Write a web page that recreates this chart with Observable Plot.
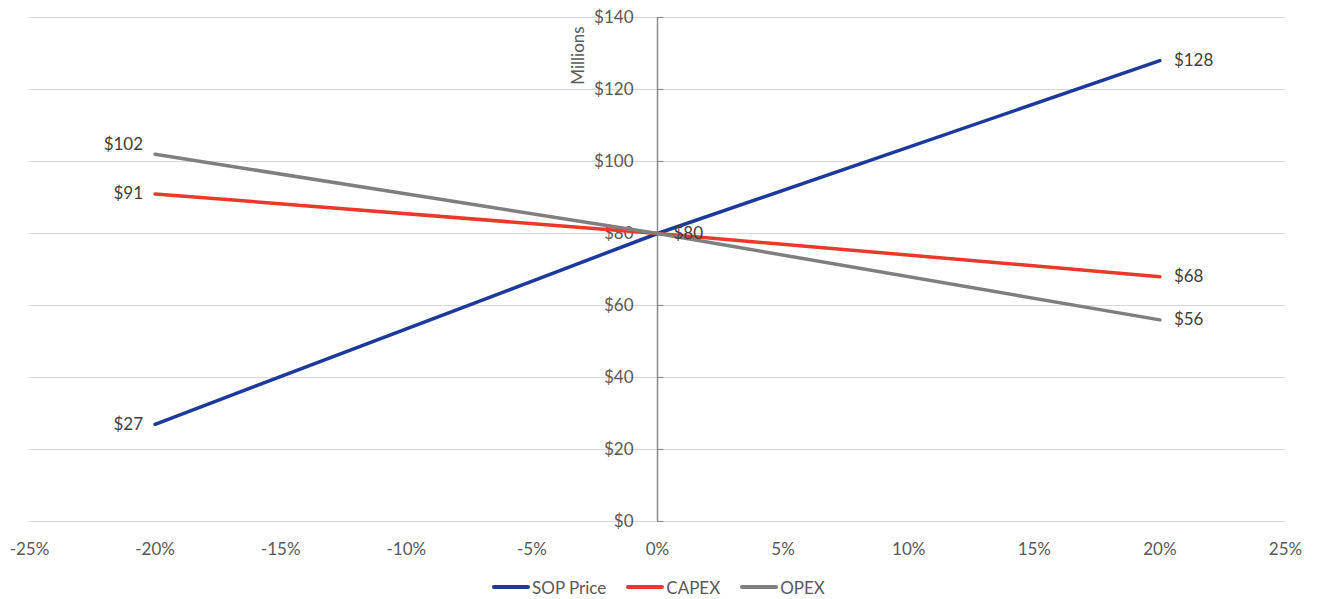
<!DOCTYPE html>
<html>
<head>
<meta charset="utf-8">
<script src="https://cdn.jsdelivr.net/npm/d3@7"></script>
<script src="https://cdn.jsdelivr.net/npm/@observablehq/plot@0.6"></script>
<style>
  html, body { margin: 0; padding: 0; background: #fff; }
  body { width: 1317px; font-family: Lato, "Open Sans", sans-serif; color: #595959; }
  #legend { display: flex; justify-content: center; align-items: center; height: 30px; margin-top: 12px; font-size: 17px; }
  .item { display: flex; align-items: center; margin: 0 10px; }
  .swatch { width: 38px; height: 4px; margin-right: 2px; border-radius: 2px; }
</style>
</head>
<body>
<div id="chart"></div>
<div id="legend"></div>
<script>
const changes = [-20, 0, 20];
const sopPrice = [27, 80, 128];
const capex = [91, 80, 68];
const opex = [102, 80, 56];
const seriesNames = ["SOP Price", "CAPEX", "OPEX"];
const seriesColors = ["#1c3a9c", "#e8392b", "#7f7f7f"];
const xTicks = [-25, -20, -15, -10, -5, 0, 5, 10, 15, 20, 25];
const yTicks = [0, 20, 40, 60, 80, 100, 120, 140];

const seriesValues = [sopPrice, capex, opex];
const rows = [];
seriesNames.forEach((name, i) => {
  changes.forEach((c, j) => rows.push({series: name, x: c, y: seriesValues[i][j]}));
});
const leftLabels = rows.filter(d => d.x === changes[0] && d.series !== "OPEX");
const leftLabelsRaised = rows.filter(d => d.x === changes[0] && d.series === "OPEX");
const rightLabels = rows.filter(d => d.x === changes[2]);
const centerLabel = rows.filter(d => d.x === 0 && d.series === "SOP Price");

const fs = 17;
const plot = Plot.plot({
  width: 1317,
  height: 560,
  marginLeft: 29,
  marginRight: 32,
  marginTop: 17,
  marginBottom: 39,
  style: {fontFamily: "Lato, 'Open Sans', sans-serif", fontSize: fs + "px", color: "#595959", background: "#fff"},
  x: {domain: [-25, 25], axis: null, label: null},
  y: {domain: [0, 140], axis: null, label: null},
  color: {domain: seriesNames, range: seriesColors},
  marks: [
    Plot.ruleY(yTicks, {y: d => d, stroke: "#d9d9d9", strokeWidth: 1}),
    Plot.ruleX([0], {y1: 0, y2: 140, stroke: "#8c8c8c", strokeWidth: 1.5}),
    Plot.ruleY(yTicks, {y: d => d, x1: 0, x2: 0.25, stroke: "#8c8c8c", strokeWidth: 1.2}),
    Plot.text(yTicks, {x: 0, y: d => d, text: d => "$" + d, dx: -24, textAnchor: "end", fill: "#595959", fontSize: fs}),
    Plot.text(["Millions"], {frameAnchor: "top", text: d => d, dx: -86, dy: 38, rotate: -90, fill: "#595959", fontSize: fs}),
    Plot.axisX({ticks: xTicks, tickSize: 0, tickPadding: 21, tickFormat: d => d + "%", fontSize: fs, color: "#595959", label: null}),
    Plot.line(rows, {x: "x", y: "y", z: "series", stroke: "series", strokeWidth: 3.5}),
    Plot.text(leftLabels, {x: "x", y: "y", text: d => "$" + d.y, dx: -12, textAnchor: "end", fill: "#404040", fontSize: fs}),
    Plot.text(leftLabelsRaised, {x: "x", y: "y", text: d => "$" + d.y, dx: -12, dy: -10, textAnchor: "end", fill: "#404040", fontSize: fs}),
    Plot.text(rightLabels, {x: "x", y: "y", text: d => "$" + d.y, dx: 14, textAnchor: "start", fill: "#404040", fontSize: fs}),
    Plot.text(centerLabel, {x: "x", y: "y", text: d => "$" + d.y, dx: 16, textAnchor: "start", fill: "#404040", fontSize: fs})
  ]
});
document.getElementById("chart").appendChild(plot);

const legend = document.getElementById("legend");
seriesNames.forEach((name, i) => {
  const item = document.createElement("div");
  item.className = "item";
  const sw = document.createElement("div");
  sw.className = "swatch";
  sw.style.background = seriesColors[i];
  const label = document.createElement("span");
  label.textContent = name;
  item.appendChild(sw);
  item.appendChild(label);
  legend.appendChild(item);
});
</script>
</body>
</html>
